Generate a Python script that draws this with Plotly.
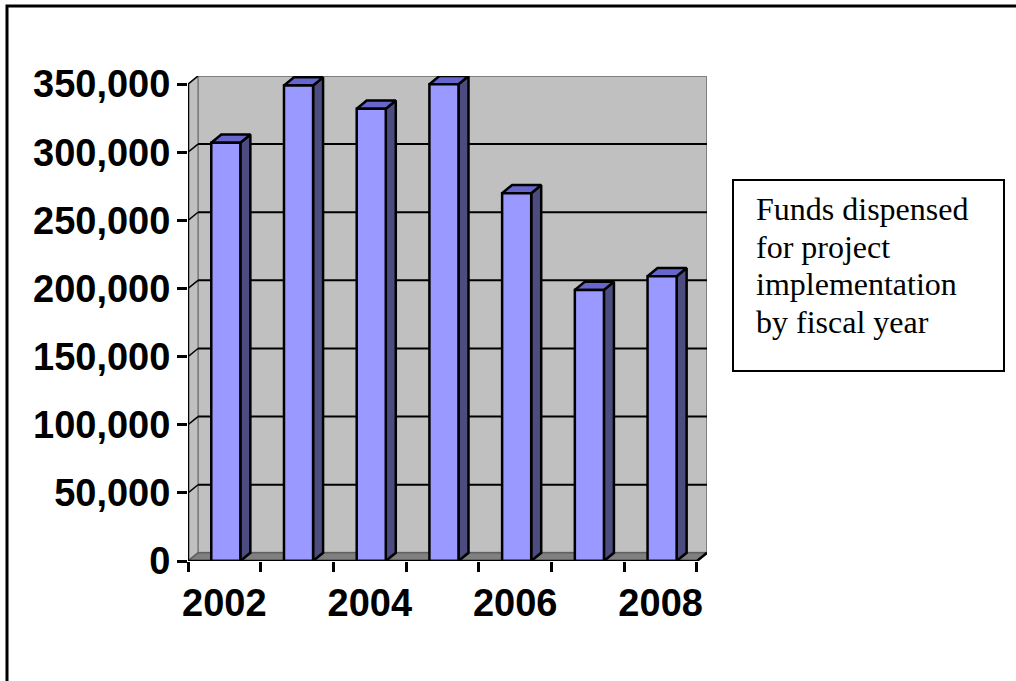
import plotly.graph_objects as go

# ---- data ----
years = [2002, 2003, 2004, 2005, 2006, 2007, 2008]
funds = [307000, 349000, 332000, 350000, 270000, 199000, 209000]
y_ticks = [0, 50000, 100000, 150000, 200000, 250000, 300000, 350000]
x_label_years = [2002, 2004, 2006, 2008]
legend_lines = ["Funds dispensed", "for project", "implementation", "by fiscal year"]

# ---- style / geometry ----
W, H = 1016, 681
L, R, T, B = 188, 309, 76, 120
PW, PH = W - L - R, H - T - B
DX = 0.1376          # depth offset in category units
DY = 6000            # depth offset in value units
HW = 0.2             # half width of bar front face
OFF = 0.02
X0, X1 = years[0] - 0.5, years[-1] + 0.5
YMAX = 356000

FRONT = "#9999FF"
SIDE = "#4C4C80"
TOP = "#6666CC"
WALL = "#C0C0C0"
FLOOR = "#808080"

def px(xp):
    return (xp - L) / PW

def py(yp):
    return (H - B - yp) / PH

fig = go.Figure()

def poly(xs, ys, fill, line_color="black", lw=2.0):
    fig.add_trace(go.Scatter(x=xs + [xs[0]], y=ys + [ys[0]], mode="lines", fill="toself",
                             fillcolor=fill, line=dict(color=line_color, width=lw),
                             hoverinfo="skip", showlegend=False))

def seg(xs, ys, color="black", lw=2.0):
    fig.add_trace(go.Scatter(x=xs, y=ys, mode="lines", line=dict(color=color, width=lw),
                             hoverinfo="skip", showlegend=False))

top_v = y_ticks[-1]
# back wall
poly([X0 + DX, X1 + DX, X1 + DX, X0 + DX], [DY, DY, top_v + DY, top_v + DY], WALL, "#808080", 2)
# side wall
poly([X0, X0 + DX, X0 + DX, X0], [0, DY, top_v + DY, top_v], WALL, "#808080", 1.5)
# floor
poly([X0, X1, X1 + DX, X0 + DX], [0, 0, DY, DY], FLOOR, "#606060", 1.5)
# gridlines on back wall and side wall
for v in y_ticks[1:]:
    if v < top_v:
        seg([X0 + DX, X1 + DX], [v + DY, v + DY], "black", 2)
    seg([X0, X0 + DX], [v, v + DY], "black", 1.5)

# bars
for yr, v in zip(years, funds):
    c = yr + OFF
    l, r = c - HW, c + HW
    poly([r, r + DX, r + DX, r], [0, DY, v + DY, v], SIDE, "black", 2.5)
    poly([l, r, r + DX, l + DX], [v, v, v + DY, v + DY], TOP, "black", 2.5)
    poly([l, r, r, l], [0, 0, v, v], FRONT, "black", 2.5)

# front axis lines
seg([X0, X0], [0, top_v], "black", 2.5)
seg([X0, X1, X1 + DX], [0, 0, DY], "black", 2.5)

# invisible trace for second x axis (labels)
fig.add_trace(go.Scatter(x=[X0], y=[0], xaxis="x2", mode="markers", marker=dict(opacity=0),
                         hoverinfo="skip", showlegend=False))

tickfont = dict(family="Liberation Sans, Arial, sans-serif", size=38, color="black", weight="bold")

fig.update_layout(
    width=W, height=H, autosize=False,
    margin=dict(l=L, r=R, t=T, b=B, pad=0),
    paper_bgcolor="white", plot_bgcolor="white",
    showlegend=False,
    xaxis=dict(range=[X0, X1 + DX], tickmode="array",
               tickvals=[X0 + k for k in range(len(years) + 1)],
               showticklabels=False, ticks="outside", ticklen=10, tickwidth=2.5,
               tickcolor="black", showgrid=False, zeroline=False, showline=False,
               fixedrange=True),
    xaxis2=dict(range=[X0, X1 + DX], overlaying="x", side="bottom", anchor="y",
                tickmode="array", tickvals=x_label_years,
                ticktext=[str(v) for v in x_label_years],
                ticks="outside", ticklen=10, tickcolor="rgba(0,0,0,0)",
                tickfont=tickfont, showgrid=False, zeroline=False, showline=False,
                ticklabelstandoff=-2),
    yaxis=dict(range=[0, YMAX], tickmode="array", tickvals=y_ticks,
               ticktext=[f"{v:,}" for v in y_ticks],
               ticks="outside", ticklen=10, tickwidth=2.5, tickcolor="black",
               tickfont=tickfont, showgrid=False, zeroline=False, showline=False,
               ticklabelstandoff=-1),
)

# outer frame (top and left visible)
fig.add_shape(type="rect", xref="paper", yref="paper",
              x0=px(7), x1=px(1040), y0=py(700), y1=py(6),
              line=dict(color="black", width=3), fillcolor="rgba(0,0,0,0)", layer="above")

# legend-like text box
fig.add_shape(type="rect", xref="paper", yref="paper",
              x0=px(733), x1=px(1004), y0=py(371), y1=py(180),
              line=dict(color="black", width=2), fillcolor="white")
baselines = [220, 257.6, 295.2, 332.8]
for txt, bl in zip(legend_lines, baselines):
    fig.add_annotation(xref="paper", yref="paper", x=px(754), y=py(bl - 10.8),
                       xanchor="left", yanchor="middle", showarrow=False, text=txt,
                       font=dict(family="Liberation Serif, Times New Roman, serif",
                                 size=32, color="black"))

fig.write_html("out.html")
